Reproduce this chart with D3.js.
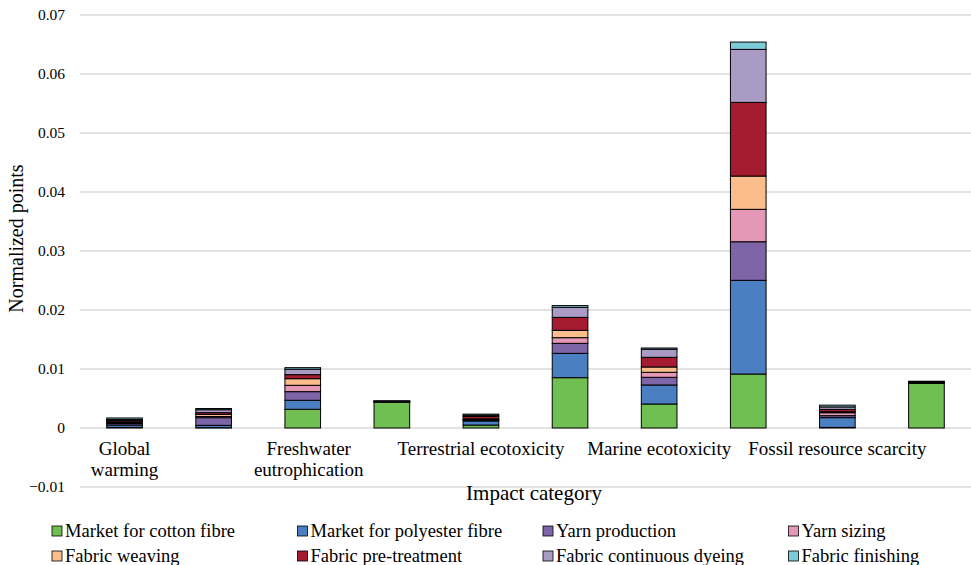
<!DOCTYPE html>
<html>
<head>
<meta charset="utf-8">
<script src="https://cdn.jsdelivr.net/npm/d3@7"></script>
<style>
  html, body { margin: 0; padding: 0; background: #fff; }
  svg { display: block; }
  text { font-family: "Liberation Serif", "Times New Roman", serif; fill: #000; }
</style>
</head>
<body>
<svg id="chart" width="971" height="565"></svg>
<script>
// ---- Data ----
const categories = [
  "Global warming",
  "Terrestrial acidification",
  "Freshwater eutrophication",
  "Marine eutrophication",
  "Terrestrial ecotoxicity",
  "Freshwater ecotoxicity",
  "Marine ecotoxicity",
  "Human carcinogenic toxicity",
  "Fossil resource scarcity",
  "Water consumption"
];
// Tick labels as shown (only every other category is labelled)
const tickLabels = [
  "Global\nwarming", "", "Freshwater\neutrophication", "", "Terrestrial ecotoxicity",
  "", "Marine ecotoxicity", "", "Fossil resource scarcity", ""
];
const seriesNames = [
  "Market for cotton fibre",
  "Market for polyester fibre",
  "Yarn production",
  "Yarn sizing",
  "Fabric weaving",
  "Fabric pre-treatment",
  "Fabric continuous dyeing",
  "Fabric finishing"
];
const cottonFibre    = [0.0001, 0.00005, 0.00317, 0.0044,  0.0005, 0.00853, 0.00407, 0.00915, 0.0001,  0.0076];
const polyesterFibre = [0.0004, 0.0004,  0.00153, 0.00002, 0.0007, 0.00412, 0.00322, 0.01588, 0.00165, 0.00002];
const yarnProduction = [0.00025,0.0013,  0.00146, 0.00003, 0.00015,0.0017,  0.0013,  0.00654, 0.00034, 0.00005];
const yarnSizing     = [0.00015,0.0002,  0.00108, 0.00002, 0.0001, 0.00096, 0.00085, 0.00549, 0.0005,  0.00003];
const fabricWeaving  = [0.00015,0.00035, 0.00112, 0.00002, 0.0001, 0.00124, 0.0009,  0.00564, 0.00017, 0.00003];
const pretreatment   = [0.00025,0.0003,  0.00068, 0.00005, 0.0004, 0.0022,  0.00164, 0.01249, 0.00039, 0.0001];
const dyeing         = [0.00015,0.0005,  0.00092, 0.00003, 0.0002, 0.0017,  0.00136, 0.00898, 0.00042, 0.00005];
const finishing      = [0.00025,0.0002,  0.00027, 0.00003, 0.0002, 0.0003,  0.00022, 0.00124, 0.0003,  0.00005];
const seriesValues = [cottonFibre, polyesterFibre, yarnProduction, yarnSizing,
                      fabricWeaving, pretreatment, dyeing, finishing];
const yTicks = [-0.01, 0, 0.01, 0.02, 0.03, 0.04, 0.05, 0.06, 0.07];
const colors = ["#70bf53", "#4a7fc2", "#7d65a7", "#e597b6", "#fbbd8b", "#a51b2f", "#a99bc4", "#7ecbd8"];

// ---- Layout ----
const svg = d3.select("#chart");
const plot = { left: 80, right: 971, top: 15, bottom: 487 };

const x = d3.scaleBand().domain(categories).range([plot.left, plot.right]).paddingInner(0.6).paddingOuter(0.3);
const y = d3.scaleLinear().domain([-0.01, 0.07]).range([plot.bottom, plot.top]);

// gridlines
svg.append("g").selectAll("line").data(yTicks).join("line")
  .attr("x1", plot.left).attr("x2", plot.right)
  .attr("y1", d => y(d)).attr("y2", d => y(d))
  .attr("stroke", "#d9d9d9").attr("stroke-width", 1.3);

// y axis labels
const yAxis = d3.axisLeft(y).tickValues(yTicks).tickSize(0).tickPadding(0)
  .tickFormat(d => d === 0 ? "0" : d3.format(".2f")(d));
const yg = svg.append("g").attr("transform", `translate(${plot.left - 15},0)`).call(yAxis);
yg.select(".domain").remove();
yg.selectAll("text").style("font-family", "Liberation Serif, serif").style("font-size", "15.5px").attr("fill", "#000");

// stacked bars
const table = categories.map((c, i) => {
  const row = { category: c };
  seriesNames.forEach((s, j) => row[s] = seriesValues[j][i]);
  return row;
});
const stack = d3.stack().keys(seriesNames)(table);
svg.append("g").selectAll("g").data(stack).join("g")
  .attr("fill", (d, i) => colors[i])
  .selectAll("rect").data(d => d).join("rect")
  .attr("x", d => x(d.data.category))
  .attr("width", x.bandwidth())
  .attr("y", d => y(d[1]))
  .attr("height", d => Math.max(0, y(d[0]) - y(d[1])))
  .attr("stroke", "#000").attr("stroke-width", 1);

// x tick labels (placed below zero line)
const xg = svg.append("g");
categories.forEach((c, i) => {
  const lbl = tickLabels[i];
  if (!lbl) return;
  const lines = lbl.split("\n");
  const t = xg.append("text")
    .attr("x", x(c) + x.bandwidth() / 2 + (lines.length > 1 && i > 0 ? 6 : 0))
    .attr("y", y(0) + 27)
    .attr("text-anchor", "middle")
    .style("font-size", "19px");
  lines.forEach((ln, k) => t.append("tspan").attr("x", t.attr("x")).attr("dy", k === 0 ? 0 : 21).text(ln));
});

// axis titles
svg.append("text").attr("x", 534).attr("y", 500).attr("text-anchor", "middle")
  .style("font-size", "21px").text("Impact category");
svg.append("text").attr("transform", `translate(23,${(plot.top + 428) / 2 + 17}) rotate(-90)`)
  .attr("text-anchor", "middle").style("font-size", "20px").text("Normalized points");

// legend
const legend = svg.append("g");
seriesNames.forEach((s, i) => {
  const col = i % 4, row = Math.floor(i / 4);
  const lx = 52 + col * 245.5, ly = 531 + row * 25;
  legend.append("rect").attr("x", lx).attr("y", ly - 5).attr("width", 10).attr("height", 10)
    .attr("fill", colors[i]).attr("stroke", "#000").attr("stroke-width", 0.8);
  legend.append("text").attr("x", lx + 13).attr("y", ly + 6).style("font-size", "18.5px").text(s);
});
</script>
</body>
</html>
